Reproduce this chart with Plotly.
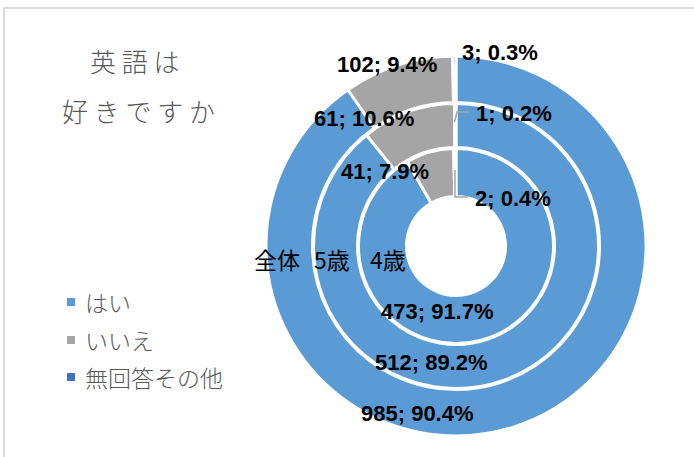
import plotly.graph_objects as go

# ---------------- data ----------------
categories = ["はい", "いいえ", "無回答その他"]
series_names = ["全体", "5歳", "4歳"]          # outer -> inner
values_all = [985, 102, 3]
values_5 = [512, 61, 1]
values_4 = [473, 41, 2]
title_lines = ["英語は", "好きですか"]

colors = ["#5B9BD5", "#A5A5A5", "#4472C4"]

W, H = 694, 457
CX, CY = 456, 246


def px(x, y):
    return x / W, 1 - y / H


def domain(r):
    x0, y1 = px(CX - r, CY - r)
    x1, y0 = px(CX + r, CY + r)
    return dict(x=[x0, x1], y=[y0, y1])


rings = [
    (values_all, 190.0, 143.5),
    (values_5, 142.5, 98.5),
    (values_4, 97.5, 49.5),
]

fig = go.Figure()
for name, (vals, r_out, r_in) in zip(series_names, rings):
    fig.add_trace(go.Pie(
        labels=categories, values=vals, name=name,
        domain=domain(r_out), hole=r_in / r_out,
        sort=False, direction="clockwise", rotation=0,
        marker=dict(colors=colors, line=dict(color="white", width=3)),
        textinfo="none", hoverinfo="label+value+percent",
        showlegend=False,
    ))

# ---------------- data labels ----------------
label_pos = {
    "全体": [(417, 413), (386.5, 65), (500, 52)],
    "5歳": [(431, 362), (364, 118), (514, 113)],
    "4歳": [(437, 311.5), (385, 171), (513, 198)],
}
annotations = []
num_font = dict(family="Liberation Sans, Arial, sans-serif",
                size=22, color="black", weight="bold")
for name, (vals, _, _) in zip(series_names, rings):
    tot = sum(vals)
    for v, (x, y) in zip(vals, label_pos[name]):
        ax, ay = px(x, y)
        annotations.append(dict(
            x=ax, y=ay, xref="paper", yref="paper", showarrow=False,
            text=f"{v}; {v / tot * 100:.1f}%", font=num_font,
            xanchor="center", yanchor="middle"))

# series names
name_pos = [(277, 259), (332, 259), (387.5, 259)]
for name, (x, y) in zip(series_names, name_pos):
    ax, ay = px(x, y)
    annotations.append(dict(
        x=ax, y=ay, xref="paper", yref="paper", showarrow=False, text=name,
        font=dict(family="Noto Sans CJK JP", size=23, color="black"),
        xanchor="center", yanchor="middle"))

# title
title_pos = [(134.5, 61), (138, 110)]
for t, (x, y) in zip(title_lines, title_pos):
    ax, ay = px(x, y)
    annotations.append(dict(
        x=ax, y=ay, xref="paper", yref="paper", showarrow=False,
        text=" ".join(t),
        font=dict(family="Noto Sans CJK JP", size=26, color="#595959", weight=300),
        xanchor="center", yanchor="middle"))

# legend (custom)
shapes = []
leg_rows = [302, 340, 377]
for cat, col, y in zip(categories, colors, leg_rows):
    x0, y0 = px(67, y + 4)
    x1, y1 = px(75, y - 4)
    shapes.append(dict(type="rect", xref="paper", yref="paper",
                       x0=x0, y0=y0, x1=x1, y1=y1,
                       fillcolor=col, line=dict(width=0)))
    ax, ay = px(83, y)
    annotations.append(dict(
        x=ax, y=ay, xref="paper", yref="paper", showarrow=False, text=cat,
        font=dict(family="Noto Sans CJK JP", size=23, color="#595959", weight=300),
        xanchor="left", yanchor="middle"))


# leader lines
def path(points):
    s = ""
    for i, (x, y) in enumerate(points):
        a, b = px(x, y)
        s += ("M" if i == 0 else "L") + f"{a},{b} "
    return s


for pts in [[(469, 112), (457, 112), (454.5, 122)],
            [(468, 197), (455, 197), (455, 170)]]:
    shapes.append(dict(type="path", xref="paper", yref="paper", path=path(pts),
                       line=dict(color="#A6A6A6", width=1.5)))

# chart-area frame
fx0, fy1 = px(4, 8)
shapes.append(dict(type="rect", xref="paper", yref="paper",
                   x0=fx0, y0=-0.2, x1=1.2, y1=fy1,
                   line=dict(color="#D9D9D9", width=2), fillcolor="rgba(0,0,0,0)"))

fig.update_layout(
    width=W, height=H, autosize=False,
    margin=dict(l=0, r=0, t=0, b=0),
    paper_bgcolor="white", plot_bgcolor="white",
    annotations=annotations, shapes=shapes,
    showlegend=False,
)

fig.write_html("out.html",
               config={"displayModeBar": False},
               post_script="document.body.style.margin='0';document.body.style.overflow='hidden';")
